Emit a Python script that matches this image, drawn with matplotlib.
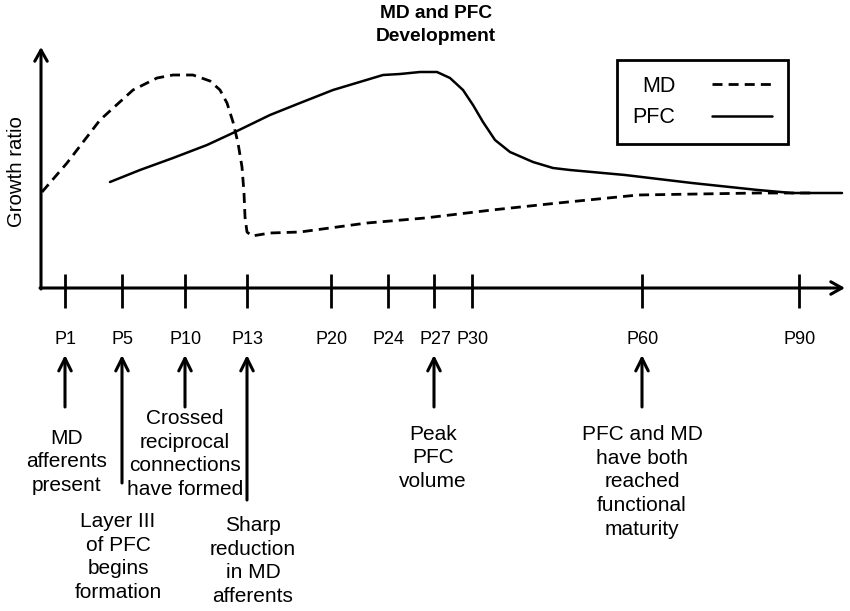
import matplotlib
matplotlib.use('Agg')
import matplotlib.pyplot as plt

plt.rcParams['font.family'] = ['Liberation Sans', 'DejaVu Sans']

# ---------------- data ----------------
title = 'MD and PFC\nDevelopment'
ylabel = 'Growth ratio'
tick_labels = ['P1', 'P5', 'P10', 'P13', 'P20', 'P24', 'P27', 'P30', 'P60', 'P90']
tick_pos = [65, 122, 185, 247, 331, 388, 434, 472, 642, 799]

# schematic curves (x = timeline position, y = growth ratio, arbitrary units)
md_x = [42, 67, 100, 133, 157, 173, 193, 210, 220, 227, 233, 238, 242, 244, 245,
        247, 252, 270, 300, 367, 425, 492, 558, 598, 638, 758, 815]
md_y = [96, 125, 168, 198, 210, 213, 213, 207, 198, 185, 166, 145, 121, 95, 71,
        56, 52, 55, 56, 65, 70, 78, 85, 89, 93, 95, 95]
pfc_x = [110, 140, 173, 207, 235, 270, 300, 333, 383, 400, 420, 437, 450, 463, 473,
         483, 495, 510, 533, 553, 570, 625, 692, 758, 792, 842]
pfc_y = [106, 118, 130, 143, 156, 173, 185, 198, 213, 214, 216, 216, 210, 198, 183,
         166, 148, 136, 126, 120, 118, 113, 105, 98, 95, 95]

events = ['MD\nafferents\npresent',
          'Layer III\nof PFC\nbegins\nformation',
          'Crossed\nreciprocal\nconnections\nhave formed',
          'Sharp\nreduction\nin MD\nafferents',
          'Peak\nPFC\nvolume',
          'PFC and MD\nhave both\nreached\nfunctional\nmaturity']
event_ticks = ['P1', 'P5', 'P10', 'P13', 'P27', 'P60']

# ---------------- layout ----------------
event_tail_y = [-119, -195, -119, -212, -119, -119]
event_text_x = [67, 118, 185, 253, 433, 642]
event_text_y = [-174, -269, -166, -273, -170, -194]
fs_tick = 13
fs_ev = 15

fig = plt.figure(figsize=(8.5, 6.11), dpi=100)
ax = fig.add_axes([0, 0, 1, 1])
ax.set_xlim(0, 850)
ax.set_ylim(-323, 288)
ax.axis('off')

# axes with arrows
axis_arrow = dict(arrowstyle='->,head_length=0.8,head_width=0.45', lw=2.2,
                  color='black', shrinkA=0, shrinkB=0, mutation_scale=10)
ax.annotate('', xy=(845, 0), xytext=(40, 0), arrowprops=axis_arrow)
ax.annotate('', xy=(41, 241), xytext=(41, -1), arrowprops=axis_arrow)

# ticks and tick labels
ax.vlines(tick_pos, -20, 14, colors='black', lw=2.0)
for p, lab in zip(tick_pos, tick_labels):
    ax.text(p + 1, -52, lab, ha='center', va='center', fontsize=fs_tick)

# curves
ax.plot(md_x, md_y, color='black', lw=2.0, ls=(0, (3.6, 2.2)),
        solid_capstyle='butt', label='MD')
ax.plot(pfc_x, pfc_y, color='black', lw=1.8, solid_joinstyle='round',
        solid_capstyle='round', label='PFC')

# event annotations
ev_arrow = dict(arrowstyle='->,head_length=0.9,head_width=0.45', lw=2.2,
                color='black', shrinkA=0, shrinkB=0, mutation_scale=10)
for name, txt, ty, tx, tyy in zip(event_ticks, events, event_tail_y,
                                  event_text_x, event_text_y):
    px = tick_pos[tick_labels.index(name)]
    ax.annotate('', xy=(px, -67), xytext=(px, ty), arrowprops=ev_arrow)
    ax.text(tx, tyy, txt, ha='center', va='center', fontsize=fs_ev,
            linespacing=1.33)

# title and y label
ax.text(436, 263, title, ha='center', va='center', fontsize=13.8,
        fontweight='bold', linespacing=1.5)
ax.text(17, 116, ylabel, ha='center', va='center', rotation=90, fontsize=14.7)

# legend
leg = ax.legend(loc='upper left', bbox_to_anchor=(617 / 850, 1 - 60 / 611),
                bbox_transform=fig.transFigure, markerfirst=False,
                fontsize=15.5, frameon=True, fancybox=False, framealpha=1,
                borderaxespad=0, borderpad=0.72, handlelength=2.8,
                handletextpad=1.7, labelspacing=0.5)
leg.get_frame().set_edgecolor('black')
leg.get_frame().set_linewidth(2.0)

fig.savefig('out.png', dpi=100)
